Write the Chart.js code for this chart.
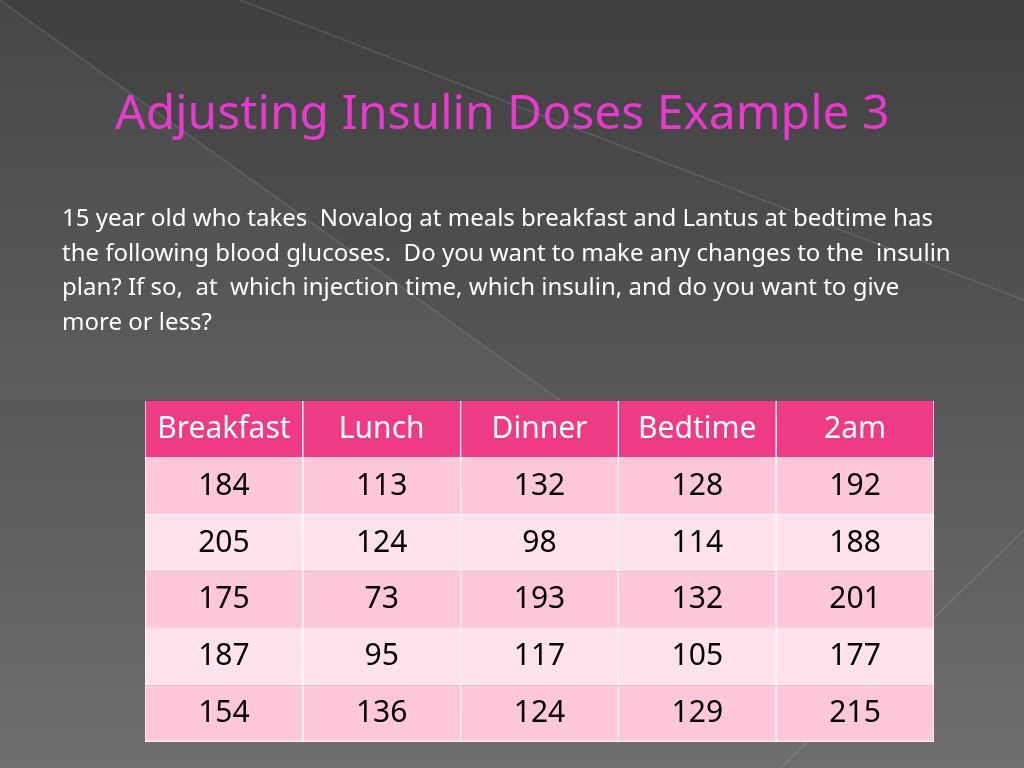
<!DOCTYPE html>
<html>
<head>
<meta charset="utf-8">
<script src="https://cdn.jsdelivr.net/npm/chart.js@4/dist/chart.umd.min.js"></script>
<style>
  html, body { margin: 0; padding: 0; width: 1024px; height: 768px; overflow: hidden; }
  #wrap { position: relative; width: 1024px; height: 768px; }
  #tabla { position: absolute; left: 0; top: 0; }
  h1 { position: absolute; left: 115px; top: 78px; margin: 0; font: 400 48px 'Noto Sans', sans-serif; color: #E83ACF; }
  p { position: absolute; left: 62px; top: 200px; width: 900px; margin: 0; font: 400 24px/34.5px 'Noto Sans', sans-serif; color: #fff; }
</style>
</head>
<body>
<div id="wrap">
  <canvas id="tabla" width="1024" height="768"></canvas>
  <h1>Adjusting Insulin Doses Example 3</h1>
  <p>15 year old who takes&nbsp; Novalog at meals breakfast and Lantus at bedtime has the following blood glucoses.&nbsp; Do you want to make any changes to the&nbsp; insulin plan? If so,&nbsp; at&nbsp; which injection time, which insulin, and do you want to give more or less?</p>
</div>
<script>
// Datos de la tabla
const encabezados = ['Breakfast', 'Lunch', 'Dinner', 'Bedtime', '2am'];
const fila1 = [184, 113, 132, 128, 192];
const fila2 = [205, 124, 98, 114, 188];
const fila3 = [175, 73, 193, 132, 201];
const fila4 = [187, 95, 117, 105, 177];
const fila5 = [154, 136, 124, 129, 215];

const filas = [encabezados, fila1, fila2, fila3, fila4, fila5];
const coloresFila = ['#EE3B83', '#FFC8DA', '#FFE2EC', '#FFC8DA', '#FFE2EC', '#FFC8DA'];

// Fondo de la diapositiva (gris degradado con líneas diagonales)
const fondo = {
  id: 'fondo',
  beforeDraw(chart) {
    const c = chart.ctx;
    const g = c.createLinearGradient(0, 0, 0, 768);
    g.addColorStop(0, '#3f3f3f');
    g.addColorStop(1, '#6e6e6e');
    c.save();
    c.fillStyle = g;
    c.fillRect(0, 0, 1024, 768);
    c.fillStyle = 'rgba(255,255,255,0.04)';
    c.beginPath(); c.moveTo(0, 0); c.lineTo(560, 400); c.lineTo(0, 400); c.fill();
    c.strokeStyle = 'rgba(255,255,255,0.12)';
    c.lineWidth = 1.5;
    c.beginPath(); c.moveTo(0, 0); c.lineTo(560, 400); c.stroke();
    c.beginPath(); c.moveTo(1024, 530); c.lineTo(780, 768); c.stroke();
    c.beginPath(); c.moveTo(240, 0); c.lineTo(1024, 300); c.stroke();
    c.restore();
  }
};

// Texto de cada celda, centrado en la barra correspondiente
const textos = {
  id: 'textos',
  afterDatasetsDraw(chart) {
    const c = chart.ctx;
    c.save();
    c.font = "400 30px 'Noto Sans', sans-serif";
    c.textAlign = 'center';
    c.textBaseline = 'middle';
    chart.data.datasets.forEach((ds, i) => {
      chart.getDatasetMeta(i).data.forEach((bar, j) => {
        c.fillStyle = i === 0 ? '#ffffff' : '#000000';
        const y = (bar.y + bar.base) / 2;
        c.fillText(String(filas[i][j]), bar.x, y);
      });
    });
    c.restore();
  }
};

new Chart(document.getElementById('tabla'), {
  type: 'bar',
  data: {
    labels: encabezados,
    datasets: filas.map((f, i) => ({
      data: f.map(() => 1),
      backgroundColor: coloresFila[i],
      borderColor: '#ffffff',
      borderWidth: 1,
      barPercentage: 1,
      categoryPercentage: 1
    }))
  },
  options: {
    responsive: false,
    animation: false,
    layout: { padding: { left: 145, right: 90, top: 401, bottom: 26 } },
    plugins: { legend: { display: false }, tooltip: { enabled: false } },
    scales: {
      x: { stacked: true, display: false },
      y: { stacked: true, display: false, reverse: true, min: 0, max: 6 }
    }
  },
  plugins: [fondo, textos]
});
</script>
</body>
</html>
